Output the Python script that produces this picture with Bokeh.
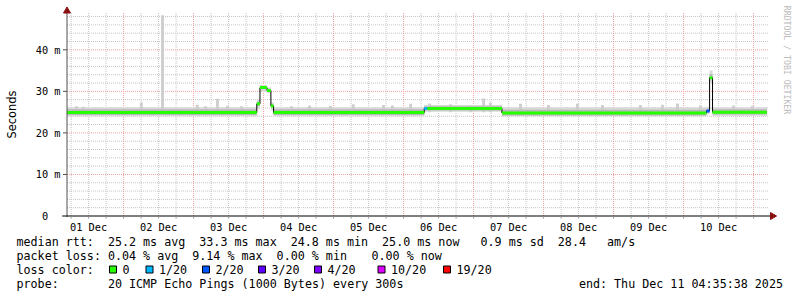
import numpy as np
import pandas as pd
from bokeh.plotting import figure
from bokeh.models import Range1d
from bokeh.core.properties import value
from bokeh.embed import file_html
from bokeh.resources import INLINE

# ---------------- data ----------------
t_start = "2025-12-01 04:35:38"
t_end = "2025-12-11 04:35:38"

# median RTT as steps (start time, value in ms, loss class index)
seg_start = ["2025-12-01 04:35:38", "2025-12-03 21:40", "2025-12-03 22:45",
             "2025-12-04 01:10", "2025-12-04 02:30", "2025-12-04 03:25",
             "2025-12-06 07:05", "2025-12-06 08:10", "2025-12-07 09:43",
             "2025-12-10 07:50", "2025-12-10 08:55", "2025-12-10 09:55"]
seg_median = [24.9, 27.0, 30.9, 30.2, 26.5, 24.9, 25.9, 25.9, 24.8, 25.3, 33.3, 25.0]
seg_loss = [0, 0, 0, 0, 0, 0, 1, 0, 0, 2, 0, 0]
# smoke (spread of the 20 pings) per step
seg_smoke_lo = [24.0, 25.8, 29.9, 29.6, 25.4, 24.0, 25.1, 25.1, 24.0, 24.5, 32.2, 24.1]
seg_smoke_hi = [26.2, 28.0, 31.5, 30.9, 27.3, 26.2, 26.7, 26.7, 26.2, 26.3, 35.0, 26.2]
seg_inner_lo = [24.3, 26.5, 30.5, 29.9, 26.0, 24.3, 25.4, 25.4, 24.2, 24.9, 33.0, 24.4]
seg_inner_hi = [25.7, 27.5, 31.3, 30.6, 27.0, 25.7, 26.4, 26.4, 25.6, 25.8, 34.2, 25.7]

# isolated tall smoke samples
spike_time = ["2025-12-01 07:50", "2025-12-01 10:15", "2025-12-02 06:05", "2025-12-02 13:20",
              "2025-12-03 01:15", "2025-12-03 04:05", "2025-12-03 08:10", "2025-12-03 11:35",
              "2025-12-03 16:25", "2025-12-04 09:35", "2025-12-04 15:45", "2025-12-04 22:55",
              "2025-12-05 06:45", "2025-12-05 17:05", "2025-12-05 20:10", "2025-12-06 02:25",
              "2025-12-06 08:55", "2025-12-06 16:05", "2025-12-06 22:55", "2025-12-07 03:25",
              "2025-12-07 05:45", "2025-12-07 16:05", "2025-12-08 01:40", "2025-12-08 11:35",
              "2025-12-08 20:10", "2025-12-09 09:10", "2025-12-09 16:45", "2025-12-09 21:55",
              "2025-12-10 05:45", "2025-12-10 17:05", "2025-12-10 23:35"]
spike_top = [26.4, 26.3, 27.3, 48.3,
             26.8, 26.4, 28.2, 26.5,
             26.4, 26.4, 26.6, 26.5,
             26.9, 26.7, 26.6, 27.0,
             27.1, 26.9, 26.6, 28.3,
             27.3, 27.0, 26.7, 27.0,
             26.7, 26.7, 26.8, 27.1,
             26.6, 26.6, 26.5]

y_ticks = [0, 10, 20, 30, 40]
y_tick_labels = ["0\u00a0\u00a0", "10 m", "20 m", "30 m", "40 m"]
x_tick_times = ["2025-12-%02d 12:00" % d for d in range(1, 11)]
x_tick_labels = ["%02d Dec" % d for d in range(1, 11)]

loss_colors = ["#26ff00", "#00b8ff", "#0059ff", "#5e00ff", "#7e00ff", "#dd00ff", "#ff0000"]
loss_labels = ["0", "1/20", "2/20", "3/20", "4/20", "10/20", "19/20"]

stats_rows = [
    [(0, "median rtt:"), (13, "25.2 ms avg"), (26, "33.3 ms max"), (39, "24.8 ms min"),
     (52, "25.0 ms now"), (66, "0.9 ms sd"), (77, "28.4"), (84, "am/s")],
    [(0, "packet loss:"), (13, "0.04 % avg"), (25, "9.14 % max"), (37, "0.00 % min"),
     (50.5, "0.00 % now")],
    [(0, "loss color:")],
    [(0, "probe:"), (13, "20 ICMP Echo Pings (1000 Bytes) every 300s"),
     (80, "end: Thu Dec 11 04:35:38 2025")],
]

# ---------------- layout constants (canvas pixels) ----------------
W, H = 797, 297
X0PIX, X1PIX = 66.5, 766.5      # pixel columns of t_start / t_end
Y0PIX, PXM = 215.5, 4.155       # pixel row of 0 ms, pixels per ms
YTOP_PIX = 12.5


def ms(s):
    return pd.Timestamp(s).value / 1e6


T0, T1 = ms(t_start), ms(t_end)
MSPP = (T1 - T0) / (X1PIX - X0PIX)
HOUR = 3600e3


def px2x(px):
    return T0 + (px - X0PIX) * MSPP


def px2y(py):
    return (Y0PIX - py) / PXM


p = figure(width=W, height=H, x_range=Range1d(px2x(0), px2x(W)), y_range=Range1d(px2y(H), px2y(0)),
           output_backend="svg", toolbar_location=None, min_border=0,
           x_axis_location=None, y_axis_location=None)
p.background_fill_color = "white"
p.border_fill_color = "white"
p.outline_line_color = None
p.grid.visible = False

# grid
YTOP = px2y(YTOP_PIX)
g6 = pd.date_range("2025-12-01 06:00", "2025-12-11 00:00", freq="6h")
g6ms = [ms(t) for t in g6]
vminor = [ms(t) for t in g6 if t.hour != 0]
vmajor = [ms(t) for t in g6 if t.hour == 0]
hminor = [v for v in range(2, 49, 2) if v % 10]
hmajor = [10, 20, 30, 40]
GRID_MINOR, GRID_MAJOR = "#c4c4c4", "#f0a0a0"
p.segment(x0=vminor, x1=vminor, y0=0, y1=YTOP, line_color=GRID_MINOR, line_dash="1 1")
p.segment(x0=T0, x1=px2x(X1PIX + 2), y0=hminor, y1=hminor, line_color=GRID_MINOR, line_dash="1 1")
p.segment(x0=vmajor, x1=vmajor, y0=0, y1=YTOP, line_color=GRID_MAJOR, line_dash="1 1")
p.segment(x0=T0, x1=px2x(X1PIX + 2), y0=hmajor, y1=hmajor, line_color=GRID_MAJOR, line_dash="1 1")

# smoke
starts = [ms(s) for s in seg_start]
ends = starts[1:] + [T1]
p.quad(left=starts, right=ends, bottom=seg_smoke_lo, top=seg_smoke_hi, fill_color="#d9d9d9", line_color=None)
st = np.array([ms(s) for s in spike_time])
p.quad(left=st - 0.5 * HOUR, right=st + 0.5 * HOUR, bottom=25.0, top=spike_top,
       fill_color="#cecece", line_color=None)
p.quad(left=starts, right=ends, bottom=seg_inner_lo, top=seg_inner_hi, fill_color="#b8b8b8", line_color=None)

# median line: thin black step + colored loss segments
xs, ys = [], []
for a, b, v in zip(starts, ends, seg_median):
    xs += [a, b]
    ys += [v, v]
p.line(xs, ys, line_color="black", line_width=1)
p.segment(x0=starts, x1=ends, y0=seg_median, y1=seg_median,
          line_color=[loss_colors[i] for i in seg_loss], line_width=3, line_cap="butt")

# axes lines, ticks and arrows
AX_RED = "#8b1010"
p.segment(x0=T0, x1=T0, y0=px2y(216.5), y1=px2y(12), line_color="#505050")
p.segment(x0=px2x(61.7), x1=px2x(770.5), y0=0, y1=0, line_color="black")
p.segment(x0=px2x(62.5), x1=T0, y0=hmajor, y1=hmajor, line_color="#505050")
p.segment(x0=g6ms, x1=g6ms, y0=0, y1=px2y(Y0PIX + 2.5), line_color="#909090")
p.scatter(x=[T0], y=[px2y(10.5)], marker="triangle", size=7, fill_color=AX_RED, line_color=AX_RED)
p.scatter(x=[px2x(772)], y=[0], marker="triangle", angle=-np.pi / 2, size=7,
          fill_color=AX_RED, line_color=AX_RED)

MONO = value("DejaVu Sans Mono")
# tick labels
p.text(x=[px2x(60)] * len(y_ticks), y=y_ticks, text=y_tick_labels, text_font=MONO,
       text_font_size=value("10.3px"), text_align="right", text_baseline="middle", text_color="black")
p.text(x=[ms(t) for t in x_tick_times], y=[px2y(220.3)] * len(x_tick_times), text=x_tick_labels,
       text_font=MONO, text_font_size=value("10.3px"), text_align="center", text_baseline="top",
       text_color="black")

# axis title and credit
p.text(x=[px2x(11)], y=[px2y(114)], text=["Seconds"], angle=np.pi / 2, text_font=value("DejaVu Sans"),
       text_font_size=value("11.4px"), text_align="center", text_baseline="middle", text_color="black")
p.text(x=[px2x(786)], y=[px2y(59.5)], text=["RRDTOOL / TOBI OETIKER"], angle=-np.pi / 2,
       text_font=MONO, text_font_size=value("8.2px"), text_align="center", text_baseline="middle",
       text_color="#bbbbbb")

# ---------------- legend / stats ----------------
LEFT, CW = 16.0, 7.03
row_y = [241, 255.3, 269, 283.3]
tx, ty, tt = [], [], []
for r, row in enumerate(stats_rows):
    for col, txt in row:
        tx.append(px2x(LEFT + col * CW))
        ty.append(px2y(row_y[r]))
        tt.append(txt)
box_x = [109, 145.5, 202, 258, 314, 377.5, 443]
for bx, lab in zip(box_x, loss_labels):
    tx.append(px2x(bx + 13))
    ty.append(px2y(row_y[2]))
    tt.append(lab)
p.text(x=tx, y=ty, text=tt, text_font=MONO, text_font_size=value("11.7px"),
       text_baseline="middle", text_align="left", text_color="black")
p.quad(left=[px2x(b) for b in box_x], right=[px2x(b + 7) for b in box_x],
       top=[px2y(row_y[2] - 3.5)] * 7, bottom=[px2y(row_y[2] + 3.5)] * 7,
       fill_color=loss_colors, line_color="black", line_width=1)

open("out.html", "w").write(file_html(p, INLINE))
